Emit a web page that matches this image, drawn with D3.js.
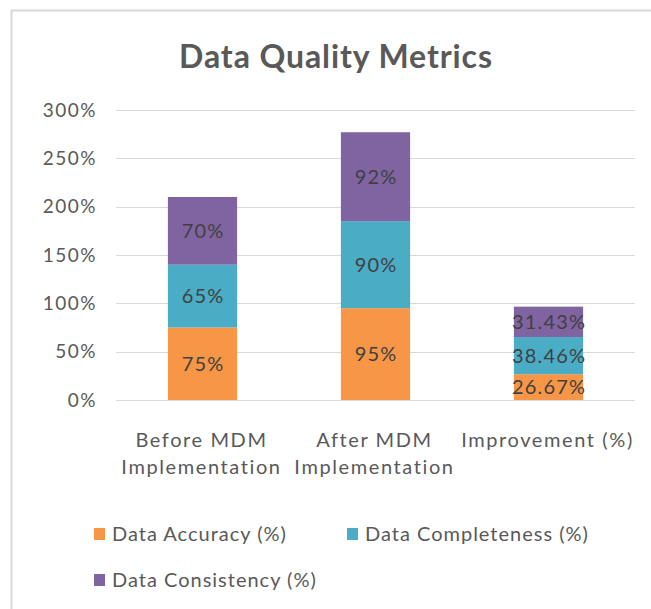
<!DOCTYPE html>
<html>
<head>
<meta charset="utf-8">
<script src="https://cdn.jsdelivr.net/npm/d3@7"></script>
<style>
  body { margin: 0; background: #fff; }
  svg text { font-family: Lato, "Open Sans", sans-serif; }
</style>
</head>
<body>
<svg id="chart" width="651" height="609"></svg>
<script>
// chart values
var categories = [["Before MDM", "Implementation"], ["After MDM", "Implementation"], ["Improvement (%)"]];
var seriesNames = ["Data Accuracy (%)", "Data Completeness (%)", "Data Consistency (%)"];
var accuracy = [75, 95, 26.67];
var completeness = [65, 90, 38.46];
var consistency = [70, 92, 31.43];
var valueLabels = [["75%", "95%", "26.67%"], ["65%", "90%", "38.46%"], ["70%", "92%", "31.43%"]];
var yTicks = [0, 50, 100, 150, 200, 250, 300];
var colors = ["#f79646", "#4bacc6", "#8064a2"];

var svg = d3.select("#chart");

// outer frame (left + top edges visible)
svg.append("path")
  .attr("d", "M11.5,609 V10.5 H651")
  .attr("fill", "none")
  .attr("stroke", "#d9d9d9")
  .attr("stroke-width", 2);

svg.append("text")
  .attr("x", 336).attr("y", 68)
  .attr("text-anchor", "middle")
  .attr("font-size", 32)
  .attr("font-weight", 700)
  .attr("letter-spacing", 0.9)
  .attr("fill", "#595959")
  .text("Data Quality Metrics");

var y = d3.scaleLinear().domain([0, 300]).range([400, 110]);
var x = d3.scaleBand()
  .domain(d3.range(categories.length))
  .range([116, 635])
  .paddingInner(0.6)
  .paddingOuter(0.3);

// gridlines
svg.append("g")
  .selectAll("line")
  .data(yTicks)
  .join("line")
  .attr("x1", 116).attr("x2", 635)
  .attr("y1", function(d){ return Math.round(y(d)) + 0.5; })
  .attr("y2", function(d){ return Math.round(y(d)) + 0.5; })
  .attr("stroke", "#d9d9d9");

// y axis labels
var yAxis = svg.append("g")
  .attr("transform", "translate(97,0)")
  .call(d3.axisLeft(y).tickValues(yTicks).tickSize(0).tickPadding(0)
    .tickFormat(function(d){ return d + "%"; }));
yAxis.select(".domain").remove();
yAxis.selectAll("text")
  .attr("font-size", 19)
  .attr("letter-spacing", 1.5)
  .attr("fill", "#595959")
  .style("font-family", "Lato, sans-serif");

// stack the three series
var rows = categories.map(function(c, i){
  return {i: i, s0: accuracy[i], s1: completeness[i], s2: consistency[i]};
});
var stacked = d3.stack().keys(["s0", "s1", "s2"])(rows);

var layers = svg.append("g")
  .selectAll("g")
  .data(stacked)
  .join("g")
  .attr("fill", function(d, k){ return colors[k]; });

layers.selectAll("rect")
  .data(function(d){ return d; })
  .join("rect")
  .attr("x", function(d){ return x(d.data.i); })
  .attr("width", x.bandwidth())
  .attr("y", function(d){ return y(d[1]); })
  .attr("height", function(d){ return y(d[0]) - y(d[1]); });

// data labels
stacked.forEach(function(layer, k){
  svg.append("g")
    .selectAll("text")
    .data(layer)
    .join("text")
    .attr("x", function(d){ return x(d.data.i) + x.bandwidth() / 2 + 0.6; })
    .attr("y", function(d){ return (y(d[0]) + y(d[1])) / 2; })
    .attr("dy", "0.35em")
    .attr("text-anchor", "middle")
    .attr("font-size", 20)
    .attr("letter-spacing", 1.2)
    .attr("fill", "#404040")
    .text(function(d){ return valueLabels[k][d.data.i]; });
});

// category labels
categories.forEach(function(lines, i){
  var cx = x(i) + x.bandwidth() / 2 - 1;
  var t = svg.append("text")
    .attr("x", cx)
    .attr("y", 447)
    .attr("text-anchor", "middle")
    .attr("font-size", 20)
    .attr("letter-spacing", 1.6)
    .attr("fill", "#595959");
  lines.forEach(function(l, j){
    t.append("tspan")
      .attr("x", cx)
      .attr("dy", j === 0 ? 0 : 27)
      .text(l);
  });
});

// legend
var legendPos = [[94, 534], [347, 534], [94, 580]];
seriesNames.forEach(function(name, k){
  var g = svg.append("g")
    .attr("transform", "translate(" + legendPos[k][0] + "," + legendPos[k][1] + ")");
  g.append("rect")
    .attr("x", 0).attr("y", -6)
    .attr("width", 11).attr("height", 12)
    .attr("fill", colors[k]);
  g.append("text")
    .attr("x", 18).attr("y", 0)
    .attr("dy", "0.35em")
    .attr("font-size", 20)
    .attr("letter-spacing", 1)
    .attr("fill", "#595959")
    .text(name);
});
</script>
</body>
</html>
